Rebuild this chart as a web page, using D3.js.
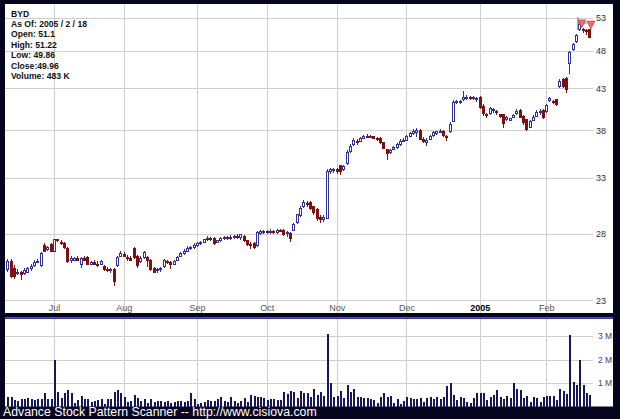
<!DOCTYPE html>
<html><head><meta charset="utf-8">
<script src="https://cdn.jsdelivr.net/npm/d3@7"></script>
<style>html,body{margin:0;padding:0;background:#05051f;}svg{display:block;}</style>
</head><body>
<script>
const infoLines = ["BYD","As Of: 2005 / 2 / 18","Open: 51.1","High: 51.22","Low: 49.86","Close:49.96","Volume: 483 K"];
const monthLabels = ["Jul","Aug","Sep","Oct","Nov","Dec","2005","Feb"];
const monthStartIdx = [14,35,57,78,99,120,142,162];
const priceTicks = [23,28,33,38,43,48,53];
const volTicks = [1,2,3];

const opens = [
25.2,25.8,25.3,24.9,25.0,24.9,25.0,25.3,25.5,25.8,
25.5,27.0,26.7,27.1,26.6,27.5,27.3,27.2,26.8,25.9,
25.9,26.0,25.6,26.0,26.1,25.6,25.7,25.6,25.6,25.4,
25.2,25.1,25.2,25.5,26.2,26.3,26.1,26.0,26.8,26.2,
25.8,26.1,26.1,25.9,25.3,25.1,25.2,25.4,25.8,25.7,
25.6,25.9,26.2,26.4,26.6,26.8,26.9,27.0,27.2,27.3,
27.5,27.6,27.6,27.3,27.4,27.6,27.7,27.6,27.7,27.8,
27.7,27.8,27.4,27.1,27.2,27.0,28.0,28.1,28.2,28.1,
28.2,28.1,28.3,28.3,28.0,28.0,28.3,28.9,29.5,30.3,
30.6,30.7,30.3,30.1,29.4,29.2,29.3,33.6,33.7,33.8,
34.2,33.8,34.4,35.7,36.4,36.8,36.8,37.1,37.3,37.2,
37.3,37.1,37.1,36.6,35.9,35.6,35.9,36.1,36.4,36.8,
36.9,37.3,37.6,37.7,38.0,37.0,36.6,37.0,37.4,37.6,
37.8,37.9,37.3,37.8,39.0,41.2,41.2,41.6,41.8,41.8,
41.7,41.6,41.8,40.8,39.8,39.9,40.3,40.2,39.8,39.8,
39.2,39.1,39.5,39.9,40.3,39.6,39.2,38.3,39.1,39.6,
40.0,40.3,40.2,41.5,41.4,41.6,43.2,44.2,44.3,46.3,
48.2,49.4,51.2,51.2,51.0,51.1];
const closes = [
25.8,24.7,24.7,25.0,24.8,25.1,25.3,25.4,25.7,25.8,
26.4,26.6,26.9,26.6,27.5,27.4,27.2,26.9,25.8,26.0,
26.0,25.9,26.0,25.9,25.6,25.7,25.6,25.5,25.8,25.2,
25.1,25.2,24.3,26.1,26.4,26.2,26.0,25.9,26.1,25.5,
26.0,26.5,25.9,25.2,25.0,25.2,25.3,25.9,25.7,25.6,
25.8,26.1,26.4,26.6,26.8,26.9,27.0,27.2,27.3,27.5,
27.6,27.5,27.2,27.4,27.6,27.7,27.6,27.7,27.8,27.7,
27.9,27.4,27.1,27.0,26.9,28.1,28.2,28.2,28.1,28.2,
28.1,28.3,28.2,27.9,28.1,27.6,28.8,29.6,30.2,30.7,
30.5,30.2,29.8,29.3,29.2,29.4,33.6,33.8,33.8,33.6,
33.6,34.1,35.6,36.2,36.9,36.6,37.1,37.3,37.2,37.3,
37.1,37.0,36.6,36.0,35.5,35.8,36.1,36.4,36.8,36.9,
37.3,37.6,37.9,38.0,37.0,36.8,36.9,37.3,37.7,37.8,
37.9,37.4,37.2,38.7,41.2,41.3,41.3,41.9,41.9,41.7,
41.8,41.7,40.6,39.9,39.7,40.5,40.4,40.0,39.6,38.8,
39.4,39.3,39.7,40.2,39.5,38.9,38.1,39.0,39.5,40.0,
40.1,39.5,40.9,41.7,41.2,41.0,43.9,43.2,42.8,47.8,
49.0,50.3,51.9,51.0,50.8,49.96];
const highs = [
26.0,26.0,25.5,25.2,25.1,25.3,25.4,25.6,25.9,26.0,
26.5,27.2,27.0,27.2,27.6,27.6,27.5,27.3,26.9,26.2,
26.1,26.2,26.1,26.2,26.2,25.8,25.9,25.8,25.9,25.5,
25.4,25.3,25.3,26.2,26.6,26.5,26.3,26.2,26.9,26.3,
26.2,26.6,26.2,26.0,25.4,25.3,25.4,26.0,25.9,25.8,
25.9,26.2,26.5,26.8,27.0,27.0,27.2,27.3,27.4,27.6,
27.8,27.7,27.7,27.5,27.7,27.8,27.8,27.9,27.9,28.0,
28.0,27.9,27.5,27.3,27.3,28.2,28.3,28.3,28.3,28.4,
28.3,28.4,28.4,28.4,28.2,28.1,28.9,29.7,30.4,30.9,
30.8,30.8,30.4,30.2,29.6,29.6,33.9,34.0,34.0,34.0,
34.3,34.3,35.8,36.5,37.1,37.0,37.2,37.5,37.6,37.5,
37.4,37.2,37.2,36.7,36.0,36.0,36.3,36.6,37.0,37.1,
37.5,37.8,38.1,38.3,38.1,37.3,37.1,37.5,37.9,37.9,
38.1,38.0,37.5,38.9,41.5,41.6,41.5,42.6,42.1,42.0,
42.0,41.9,42.0,41.0,40.0,40.7,40.6,40.3,39.9,39.9,
39.6,39.4,39.9,40.4,40.4,39.7,39.3,39.2,39.7,40.3,
40.5,40.4,41.0,41.9,41.5,41.7,44.2,44.3,44.4,48.0,
49.2,50.5,52.3,51.4,51.2,51.22];
const lows = [
25.0,24.6,24.5,24.8,24.4,24.8,24.9,25.1,25.4,25.7,
25.4,26.5,26.6,26.5,26.5,27.3,27.1,26.8,25.7,25.7,
25.8,25.8,25.3,25.8,25.5,25.5,25.5,25.4,25.5,25.1,
25.0,24.9,24.0,25.4,26.1,26.1,25.8,25.8,26.0,25.3,
25.7,26.0,25.4,25.1,24.9,24.9,25.0,25.3,25.6,25.2,
25.5,25.8,26.1,26.3,26.5,26.7,26.8,26.9,27.1,27.2,
27.4,27.4,27.1,27.2,27.3,27.5,27.5,27.5,27.6,27.6,
27.5,27.3,27.0,26.8,26.8,26.9,27.9,28.0,28.0,28.0,
28.0,28.0,28.1,27.8,27.7,27.3,28.2,28.8,29.4,30.2,
30.3,30.0,29.6,29.1,28.9,29.0,29.2,33.4,33.5,33.4,
33.3,33.7,34.3,35.5,36.3,36.4,36.7,37.0,37.1,37.1,
37.0,36.8,36.5,35.9,34.8,35.4,35.8,36.0,36.3,36.7,
36.8,37.2,37.5,37.3,36.9,36.6,36.3,36.9,37.3,37.5,
37.7,37.3,36.8,37.7,38.9,41.0,41.0,41.4,41.6,41.5,
41.5,41.3,40.5,39.6,39.4,39.7,40.0,39.8,39.4,38.2,
39.0,39.0,39.4,39.8,39.4,38.6,37.9,38.2,39.0,39.5,
39.8,39.3,40.0,41.3,41.0,40.8,43.0,43.0,42.4,44.9,
48.0,49.2,51.0,50.6,50.3,49.86];
const volumes = [
0.42,0.42,0.28,0.22,0.32,0.32,0.36,0.32,0.28,0.32,
0.32,0.56,0.32,0.32,1.99,0.60,0.36,0.56,0.69,0.56,
0.14,0.28,0.46,0.32,0.32,0.18,0.22,0.28,0.32,0.11,
0.32,0.32,0.60,0.69,0.56,0.42,0.18,0.25,0.50,0.36,
0.25,0.32,0.14,0.32,0.18,0.25,0.22,0.18,0.22,0.14,
0.18,0.22,0.22,0.18,0.25,0.56,0.32,0.11,0.14,0.18,
0.28,0.22,0.25,0.32,0.39,0.25,0.18,0.42,0.22,0.14,
0.22,0.36,0.18,0.49,0.46,0.42,0.42,0.36,0.28,0.32,
0.32,0.28,0.28,0.60,0.53,0.64,0.60,0.36,0.67,0.56,
0.56,0.39,0.73,0.49,0.63,0.45,3.10,0.98,0.42,0.45,
0.67,0.35,0.91,0.63,0.73,0.42,0.39,0.35,0.35,0.31,
0.28,0.17,0.39,0.59,0.39,0.45,0.17,0.31,0.11,0.25,
0.42,0.35,0.31,0.31,0.35,0.21,0.35,0.39,0.31,0.39,
0.31,0.39,0.87,0.98,0.49,0.28,0.39,0.35,0.21,0.17,
0.35,0.59,0.59,0.59,0.28,0.42,0.49,0.70,0.39,0.31,
0.45,0.35,1.00,0.73,0.70,0.35,0.45,0.21,0.39,0.35,
0.21,0.39,0.45,0.45,0.45,0.28,0.73,0.67,0.53,3.05,
1.05,0.91,1.99,0.91,0.59,0.483];

const W = 620, H = 419;
const svg = d3.select("body").append("svg").attr("width", W).attr("height", H);
svg.append("rect").attr("width", W).attr("height", H).attr("fill", "#05051f");

// panels
svg.append("rect").attr("x",5).attr("y",4).attr("width",608).attr("height",309).attr("fill","#fff");
svg.append("rect").attr("x",5).attr("y",317.5).attr("width",608).attr("height",89).attr("fill","#fff");
svg.append("rect").attr("x",5).attr("y",317.5).attr("width",608).attr("height",1.5).attr("fill","#3434a8");

const idx = d3.range(opens.length);
const x = d3.scaleLinear().domain([0, 175]).range([7.4, 589.4]);
const y = d3.scaleLog().domain([23, 53]).range([300.3, 17.5]);
const v = d3.scaleLinear().domain([0, 3]).range([406.5, 336]);

const gridColor = "#cfcfcf";
const labelFont = "Liberation Sans, Arial, sans-serif";

// price grid + right labels
const pAxis = svg.append("g").attr("transform","translate(5,0)")
  .call(d3.axisRight(y).tickValues(priceTicks).tickFormat(d3.format("d")).tickSize(588).tickPadding(3));
pAxis.select(".domain").remove();
pAxis.selectAll("line").attr("stroke", gridColor).attr("shape-rendering","crispEdges");
pAxis.selectAll("text").attr("font-family", labelFont).attr("font-size", 9).attr("fill", "#333");

// month grid (top panel)
const mGrid = svg.append("g").attr("transform","translate(0,4)")
  .call(d3.axisBottom(x).tickValues(monthStartIdx).tickSize(309).tickFormat(""));
mGrid.select(".domain").remove();
mGrid.selectAll("line").attr("stroke", gridColor).attr("shape-rendering","crispEdges");

// month labels
const mLab = svg.append("g").attr("transform","translate(0,302)")
  .call(d3.axisBottom(x).tickValues(monthStartIdx).tickSize(0).tickPadding(3)
    .tickFormat((d,i) => monthLabels[i]));
mLab.select(".domain").remove();
mLab.selectAll("text").attr("font-family", labelFont).attr("font-size", 9)
  .attr("fill", (d,i) => monthLabels[i] === "2005" ? "#000" : "#555")
  .attr("font-weight", (d,i) => monthLabels[i] === "2005" ? "bold" : "normal");

// volume grid
const vAxis = svg.append("g").attr("transform","translate(5,0)")
  .call(d3.axisRight(v).tickValues(volTicks).tickFormat(d => d + " M").tickSize(588).tickPadding(5));
vAxis.select(".domain").remove();
vAxis.selectAll("line").attr("stroke", gridColor).attr("shape-rendering","crispEdges");
vAxis.selectAll("text").attr("font-family", labelFont).attr("font-size", 8.5).attr("fill", "#3a3a70");

const vGrid = svg.append("g").attr("transform","translate(0,319)")
  .call(d3.axisBottom(x).tickValues(monthStartIdx).tickSize(88).tickFormat(""));
vGrid.select(".domain").remove();
vGrid.selectAll("line").attr("stroke", gridColor).attr("shape-rendering","crispEdges");

// info text
const info = svg.append("g").attr("font-family", labelFont).attr("font-size", 8.6).attr("font-weight","bold").attr("fill","#111");
info.selectAll("text").data(infoLines).join("text")
  .attr("x", 11).attr("y", (d,i) => 16.6 + i*10.4).text(d => d);

// candles
const upCol = "#30309a", dnCol = "#7e1010";
const cg = svg.append("g").attr("shape-rendering","crispEdges");
cg.selectAll("line.wick").data(idx).join("line").attr("class","wick")
  .attr("x1", i => Math.round(x(i)) + 0.5).attr("x2", i => Math.round(x(i)) + 0.5)
  .attr("y1", i => y(highs[i])).attr("y2", i => y(lows[i]))
  .attr("stroke", i => closes[i] >= opens[i] ? upCol : dnCol);
cg.selectAll("rect.body").data(idx).join("rect").attr("class","body")
  .attr("x", i => Math.round(x(i)) - 0.5)
  .attr("width", 2)
  .attr("y", i => y(Math.max(opens[i], closes[i])))
  .attr("height", i => Math.max(1, y(Math.min(opens[i], closes[i])) - y(Math.max(opens[i], closes[i]))))
  .attr("fill", i => closes[i] >= opens[i] ? "#fff" : dnCol)
  .attr("stroke", i => closes[i] >= opens[i] ? upCol : dnCol)
  .attr("stroke-width", 1);

// pattern markers on last days
const mk = svg.append("g");
const lastI = opens.length - 1;
mk.append("path")
  .attr("d", `M${x(lastI-3)-1.5},${y(highs[lastI-3])-5} v13 M${x(lastI-3)-1.5},${y(highs[lastI-3])+1} h9`)
  .attr("stroke","#555").attr("fill","none").attr("stroke-width",0.8);
[lastI-2, lastI].forEach((i, k) => {
  const cx = x(i) + (k === 0 ? -1 : 1.5), ty = y(highs[i]) - 8;
  mk.append("path").attr("d", `M${cx-4},${ty} L${cx+4},${ty} L${cx},${ty+8} Z`)
    .attr("fill","#f06a6a").attr("stroke","#b03a3a").attr("stroke-width",0.6);
});

// volume bars
svg.append("g").attr("shape-rendering","crispEdges").selectAll("rect").data(idx).join("rect")
  .attr("x", i => Math.round(x(i)) - 0.5).attr("width", 2)
  .attr("y", i => v(volumes[i])).attr("height", i => v(0) - v(volumes[i]))
  .attr("fill", "#16165a");

// footer
svg.append("text").attr("x", 3).attr("y", 416).attr("font-family", labelFont)
  .attr("font-size", 12.3).attr("fill", "#fff")
  .text("Advance Stock Pattern Scanner -- http://www.cisiova.com");
</script>
</body></html>
